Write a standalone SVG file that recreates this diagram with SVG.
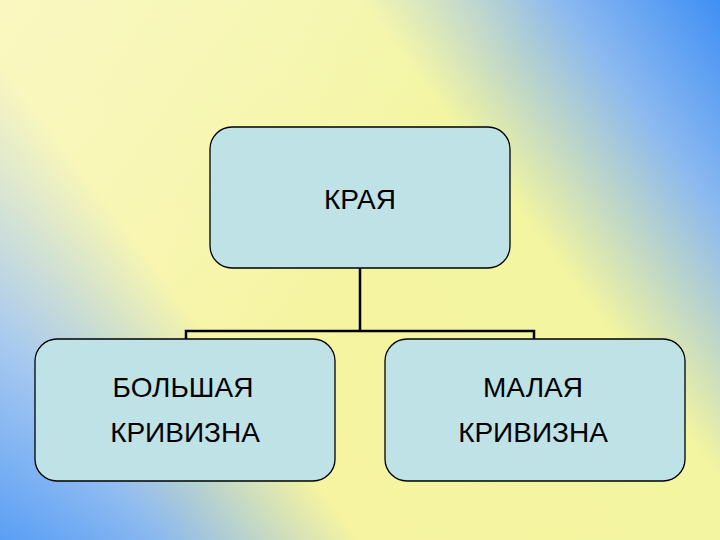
<svg xmlns="http://www.w3.org/2000/svg" width="720" height="540" viewBox="0 0 720 540">
<defs>
<linearGradient id="bg" x1="720" y1="0" x2="0" y2="540" gradientUnits="userSpaceOnUse">
<stop offset="0" stop-color="#3f8ff5"/>
<stop offset="0.14" stop-color="#8ab8f0"/>
<stop offset="0.32" stop-color="#f3f5a0"/>
<stop offset="0.68" stop-color="#f6f4a0"/>
<stop offset="0.86" stop-color="#8ab8f0"/>
<stop offset="1" stop-color="#3f8ff5"/>
</linearGradient>
<linearGradient id="bg2" x1="0" y1="0" x2="720" y2="540" gradientUnits="userSpaceOnUse">
<stop offset="0" stop-color="#fffbe0" stop-opacity="0.5"/>
<stop offset="0.5" stop-color="#ffffff" stop-opacity="0"/>
</linearGradient>
<style>
.box{fill:#bfe2e6;stroke:#000;stroke-width:1.3}
.t{font-family:"Liberation Sans",Arial,sans-serif;font-size:28px;fill:#000;text-anchor:middle}
.c{stroke:#000;stroke-width:2.5;fill:none}
</style>
</defs>
<rect width="720" height="540" fill="url(#bg)"/>
<rect width="720" height="540" fill="url(#bg2)"/>
<g id="connectors">
<path class="c" d="M360 268V331M186 340V331H534V340"/>
</g>
<g id="node-top">
<rect class="box" x="210" y="127" width="300" height="141" rx="22"/>
<text class="t" x="360" y="209">КРАЯ</text>
</g>
<g id="node-left">
<rect class="box" x="35" y="339" width="300" height="142" rx="22"/>
<text class="t" x="183" y="397">БОЛЬШАЯ</text>
<text class="t" x="185" y="442">КРИВИЗНА</text>
</g>
<g id="node-right">
<rect class="box" x="385" y="339" width="300" height="142" rx="22"/>
<text class="t" x="533" y="397">МАЛАЯ</text>
<text class="t" x="533" y="442">КРИВИЗНА</text>
</g>
</svg>
